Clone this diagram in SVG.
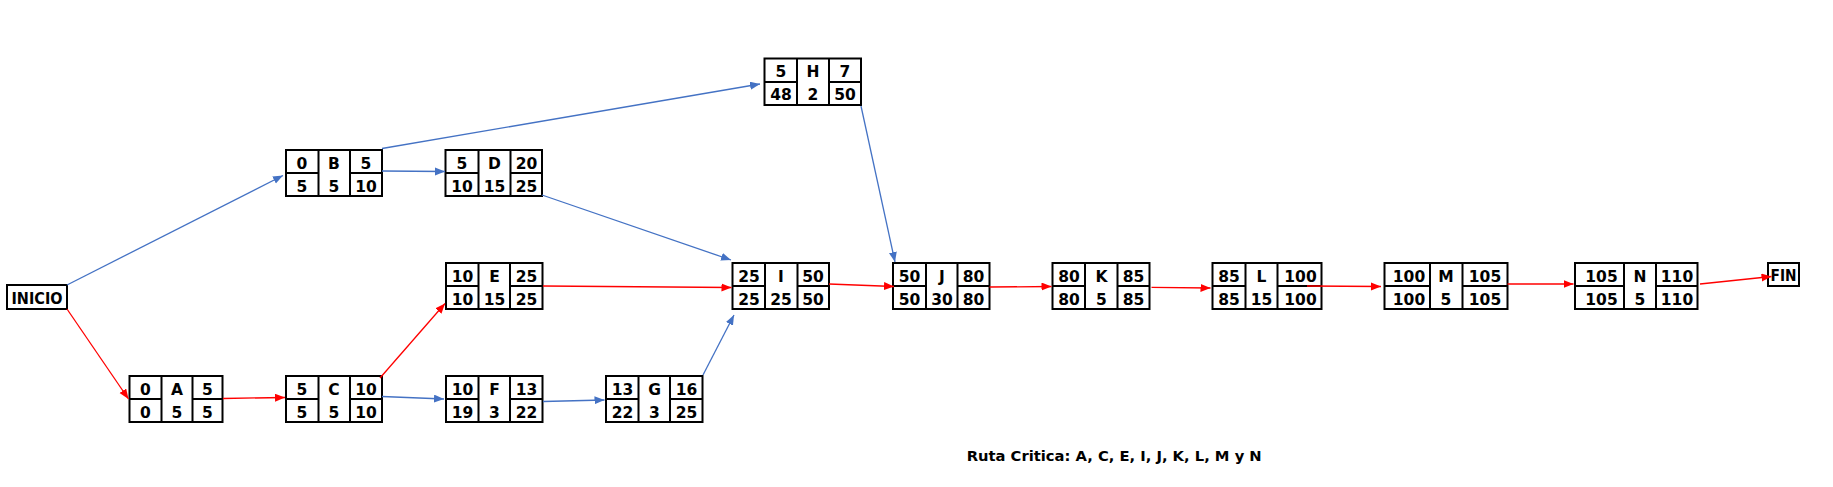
<svg xmlns="http://www.w3.org/2000/svg" width="1833" height="487" viewBox="0 0 1833 487">
<style>
.bx{fill:#fff;stroke:#000;stroke-width:2}
.dv{stroke:#000;stroke-width:2;fill:none}
.t{font-family:"DejaVu Sans","Liberation Sans",sans-serif;font-weight:bold;font-size:15.5px;fill:#000;text-anchor:middle}
.b{stroke:#4472C4;stroke-width:1.3;fill:none;marker-end:url(#ab)}
.r{stroke:#FF0000;stroke-width:1.3;fill:none;marker-end:url(#ar)}
</style>
<defs>
<marker id="ab" markerUnits="userSpaceOnUse" markerWidth="11" markerHeight="9" refX="10" refY="4" orient="auto"><path d="M0,0 L10,4 L0,8 z" fill="#4472C4"/></marker>
<marker id="ar" markerUnits="userSpaceOnUse" markerWidth="11" markerHeight="9" refX="10" refY="4" orient="auto"><path d="M0,0 L10,4 L0,8 z" fill="#FF0000"/></marker>
</defs>
<rect width="1833" height="487" fill="#fff"/>

<g id="INICIO"><rect class="bx" x="7" y="285" width="60" height="24"/><text class="t" x="37" y="303.5" textLength="51" lengthAdjust="spacingAndGlyphs">INICIO</text></g>
<g id="FIN"><rect class="bx" x="1768" y="263" width="31" height="23"/><text class="t" x="1783.5" y="280.5" textLength="26" lengthAdjust="spacingAndGlyphs">FIN</text></g>

<g id="A"><rect class="bx" x="129.5" y="376" width="93" height="46"/><path class="dv" d="M161.5,376V422M192.5,376V422M129.5,399H161.5M192.5,399H222.5"/>
<text class="t" x="145.5" y="394.5">0</text><text class="t" x="177" y="394.5">A</text><text class="t" x="207.5" y="394.5">5</text>
<text class="t" x="145.5" y="417.5">0</text><text class="t" x="177" y="417.5">5</text><text class="t" x="207.5" y="417.5">5</text></g>

<g id="B"><rect class="bx" x="286" y="150" width="96" height="46"/><path class="dv" d="M318.5,150V196M350,150V196M286,173H318.5M350,173H382"/>
<text class="t" x="302" y="168.5">0</text><text class="t" x="334" y="168.5">B</text><text class="t" x="366" y="168.5">5</text>
<text class="t" x="302" y="191.5">5</text><text class="t" x="334" y="191.5">5</text><text class="t" x="366" y="191.5">10</text></g>

<g id="C"><rect class="bx" x="286" y="376" width="96" height="46"/><path class="dv" d="M318.5,376V422M350,376V422M286,399H318.5M350,399H382"/>
<text class="t" x="302" y="394.5">5</text><text class="t" x="334" y="394.5">C</text><text class="t" x="366" y="394.5">10</text>
<text class="t" x="302" y="417.5">5</text><text class="t" x="334" y="417.5">5</text><text class="t" x="366" y="417.5">10</text></g>

<g id="D"><rect class="bx" x="445.5" y="150" width="96.5" height="46"/><path class="dv" d="M478.5,150V196M510.5,150V196M445.5,173H478.5M510.5,173H542"/>
<text class="t" x="462" y="168.5">5</text><text class="t" x="494.5" y="168.5">D</text><text class="t" x="526.5" y="168.5">20</text>
<text class="t" x="462" y="191.5">10</text><text class="t" x="494.5" y="191.5">15</text><text class="t" x="526.5" y="191.5">25</text></g>

<g id="E"><rect class="bx" x="446" y="263" width="96.5" height="46"/><path class="dv" d="M478.5,263V309M510,263V309M446,286H478.5M510,286H542.5"/>
<text class="t" x="462.5" y="281.5">10</text><text class="t" x="494.5" y="281.5">E</text><text class="t" x="526.5" y="281.5">25</text>
<text class="t" x="462.5" y="304.5">10</text><text class="t" x="494.5" y="304.5">15</text><text class="t" x="526.5" y="304.5">25</text></g>

<g id="F"><rect class="bx" x="446" y="376" width="96.5" height="46"/><path class="dv" d="M478.5,376V422M510,376V422M446,399H478.5M510,399H542.5"/>
<text class="t" x="462.5" y="394.5">10</text><text class="t" x="494.5" y="394.5">F</text><text class="t" x="526.5" y="394.5">13</text>
<text class="t" x="462.5" y="417.5">19</text><text class="t" x="494.5" y="417.5">3</text><text class="t" x="526.5" y="417.5">22</text></g>

<g id="G"><rect class="bx" x="606" y="376" width="96.5" height="46"/><path class="dv" d="M638.5,376V422M670,376V422M606,399H638.5M670,399H702.5"/>
<text class="t" x="622.5" y="394.5">13</text><text class="t" x="654.5" y="394.5">G</text><text class="t" x="686.5" y="394.5">16</text>
<text class="t" x="622.5" y="417.5">22</text><text class="t" x="654.5" y="417.5">3</text><text class="t" x="686.5" y="417.5">25</text></g>

<g id="H"><rect class="bx" x="764.5" y="58.5" width="96.5" height="46.5"/><path class="dv" d="M797,58.5V105M829,58.5V105M764.5,82H797M829,82H861"/>
<text class="t" x="781" y="77">5</text><text class="t" x="813" y="77">H</text><text class="t" x="845" y="77">7</text>
<text class="t" x="781" y="100">48</text><text class="t" x="813" y="100">2</text><text class="t" x="845" y="100">50</text></g>

<g id="I"><rect class="bx" x="732.5" y="263" width="96.5" height="46"/><path class="dv" d="M765,263V309M797.5,263V309M732.5,286H765M797.5,286H829"/>
<text class="t" x="749" y="281.5">25</text><text class="t" x="781" y="281.5">I</text><text class="t" x="813" y="281.5">50</text>
<text class="t" x="749" y="304.5">25</text><text class="t" x="781" y="304.5">25</text><text class="t" x="813" y="304.5">50</text></g>

<g id="J"><rect class="bx" x="893" y="263" width="96.5" height="46"/><path class="dv" d="M926,263V309M957.5,263V309M893,286H926M957.5,286H989.5"/>
<text class="t" x="909.5" y="281.5">50</text><text class="t" x="942" y="281.5">J</text><text class="t" x="973.5" y="281.5">80</text>
<text class="t" x="909.5" y="304.5">50</text><text class="t" x="942" y="304.5">30</text><text class="t" x="973.5" y="304.5">80</text></g>

<g id="K"><rect class="bx" x="1052.5" y="263" width="97" height="46"/><path class="dv" d="M1085,263V309M1117.5,263V309M1052.5,286H1085M1117.5,286H1149.5"/>
<text class="t" x="1069" y="281.5">80</text><text class="t" x="1101.5" y="281.5">K</text><text class="t" x="1133.5" y="281.5">85</text>
<text class="t" x="1069" y="304.5">80</text><text class="t" x="1101.5" y="304.5">5</text><text class="t" x="1133.5" y="304.5">85</text></g>

<g id="L"><rect class="bx" x="1212.5" y="263" width="109" height="46"/><path class="dv" d="M1245.5,263V309M1277.5,263V309M1212.5,286H1245.5M1277.5,286H1321.5"/>
<text class="t" x="1229" y="281.5">85</text><text class="t" x="1261.5" y="281.5">L</text><text class="t" x="1300.5" y="281.5">100</text>
<text class="t" x="1229" y="304.5">85</text><text class="t" x="1261.5" y="304.5">15</text><text class="t" x="1300.5" y="304.5">100</text></g>

<g id="M"><rect class="bx" x="1384.5" y="263" width="123" height="46"/><path class="dv" d="M1430,263V309M1462.5,263V309M1384.5,286H1430M1462.5,286H1507.5"/>
<text class="t" x="1409" y="281.5">100</text><text class="t" x="1446" y="281.5">M</text><text class="t" x="1485" y="281.5">105</text>
<text class="t" x="1409" y="304.5">100</text><text class="t" x="1446" y="304.5">5</text><text class="t" x="1485" y="304.5">105</text></g>

<g id="N"><rect class="bx" x="1575" y="263" width="122.5" height="46"/><path class="dv" d="M1624,263V309M1656,263V309M1575,286H1624M1656,286H1697.5"/>
<text class="t" x="1601.5" y="281.5">105</text><text class="t" x="1640" y="281.5">N</text><text class="t" x="1677" y="281.5">110</text>
<text class="t" x="1601.5" y="304.5">105</text><text class="t" x="1640" y="304.5">5</text><text class="t" x="1677" y="304.5">110</text></g>

<g id="connectors">
<line class="b" x1="67" y1="285" x2="283" y2="175.5"/>
<line class="b" x1="382" y1="148.5" x2="760" y2="84"/>
<line class="b" x1="382" y1="171" x2="445" y2="171.5"/>
<line class="b" x1="542" y1="195" x2="731" y2="260"/>
<line class="b" x1="382" y1="396.5" x2="444" y2="399"/>
<line class="b" x1="543" y1="401.5" x2="604.5" y2="400"/>
<line class="b" x1="703" y1="375" x2="734" y2="315"/>
<line class="b" x1="861" y1="106" x2="895" y2="262"/>
<line class="r" x1="67" y1="309" x2="128.5" y2="399"/>
<line class="r" x1="223" y1="398.5" x2="285" y2="397.5"/>
<line class="r" x1="380" y1="378" x2="445" y2="303.5"/>
<line class="r" x1="543" y1="286" x2="731.5" y2="287.5"/>
<line class="r" x1="829" y1="284" x2="894" y2="286.5"/>
<line class="r" x1="989.5" y1="287" x2="1051.5" y2="286.5"/>
<line class="r" x1="1151.5" y1="287.3" x2="1210.5" y2="288"/>
<line class="r" x1="1307" y1="286" x2="1381" y2="286.5"/>
<line class="r" x1="1507.5" y1="284" x2="1573.5" y2="284"/>
<line class="r" x1="1700" y1="284" x2="1771.5" y2="276.5"/>
</g>

<text x="966.7" y="460.7" font-family="DejaVu Sans, Liberation Sans, sans-serif" font-weight="bold" font-size="14" textLength="295" lengthAdjust="spacingAndGlyphs">Ruta Critica: A, C, E, I, J, K, L, M y N</text>
</svg>
